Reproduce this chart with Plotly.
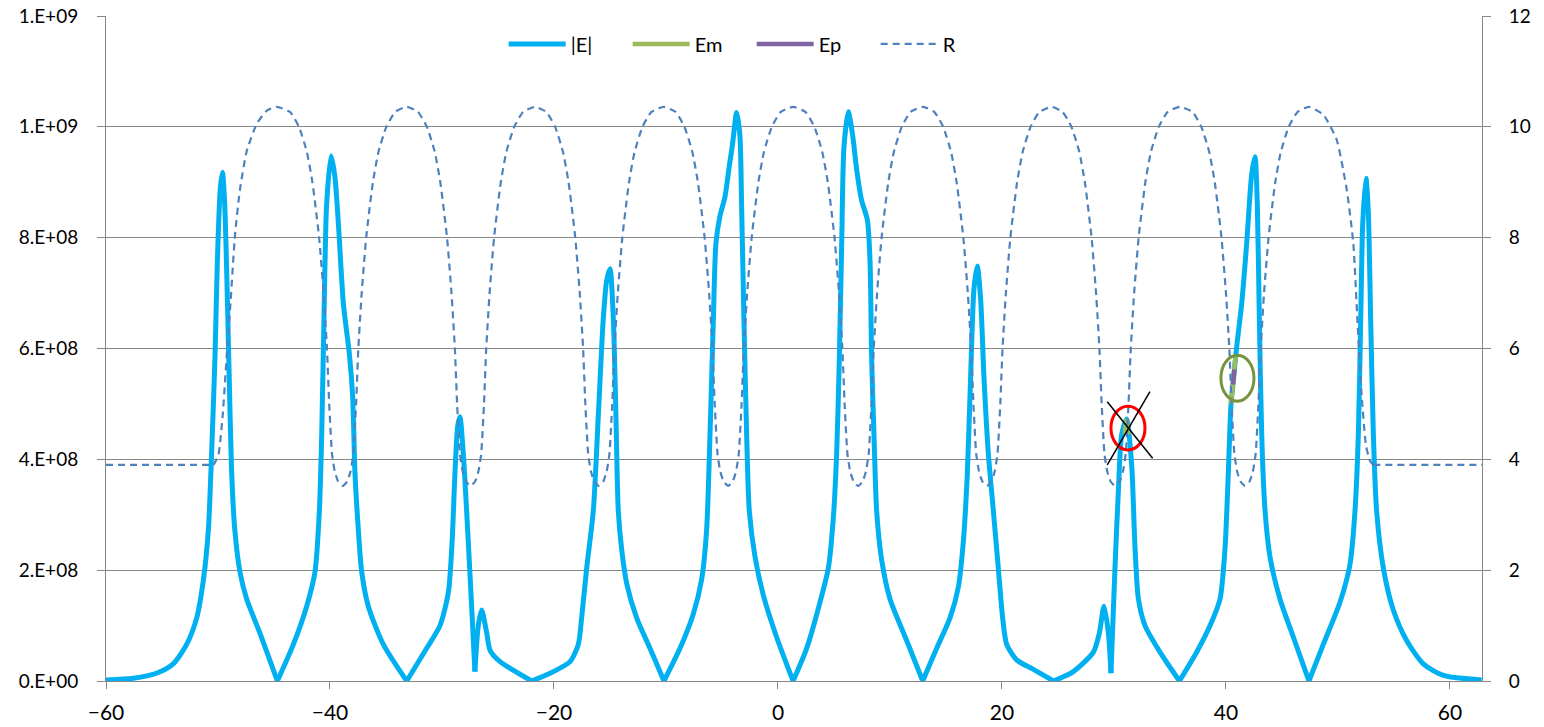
import plotly.graph_objects as go

# Field magnitude |E| along the structure (values in units of 1e8)
E_UNIT = 1e8
x_e = [
    -60.0, -57.56, -55.5, -54.0, -52.8, -51.9, -51.3, -50.86, -50.57, -50.27, -50.06, -49.8,
    -49.6, -49.4, -49.2, -49.0, -48.78, -48.5, -48.04, -47.44, -46.25, -44.7,
    -43.27, -42.08, -41.34, -40.95, -40.74, -40.54, -40.3, -39.9, -39.55, -39.25, -38.8,
    -38.27, -37.98, -37.77, -37.47, -37.17, -36.58, -35.24, -33.15,
    -31.37, -30.18, -29.43, -29.1, -28.84, -28.6, -28.4, -28.1, -27.8, -27.44, -27.06,
    -26.76, -26.46, -26.0, -25.7, -24.82, -22.0,
    -20.36, -18.57, -17.83, -17.53, -17.08, -16.49, -16.04, -15.6, -15.3, -15.0, -14.7,
    -14.47, -14.26, -13.96, -13.51, -12.62, -11.43, -10.18,
    -8.75, -7.56, -6.82, -6.37, -6.07, -5.77, -5.54, -5.18, -4.73, -4.35, -4.05, -3.69,
    -3.4, -3.25, -3.04, -2.8, -2.56, -2.05, -1.31, -0.12, 1.35,
    2.56, 3.75, 4.5, 4.94, 5.24, 5.48, 5.69, 5.89, 6.28, 6.67, 7.03, 7.47, 7.98, 8.22,
    8.36, 8.57, 8.81, 9.26, 10.0, 11.49, 12.92,
    14.17, 15.36, 16.1, 16.55, 16.91, 17.2, 17.5, 17.8, 18.1, 18.39, 18.78, 19.23, 19.67,
    20.06, 20.42, 21.31, 22.8, 24.6,
    26.37, 28.16, 28.69, 29.11, 29.5, 29.73, 30.09, 30.39, 30.69, 31.13, 31.58, 31.88,
    32.18, 32.77, 34.11, 35.84,
    37.38, 38.58, 39.47, 39.91, 40.21, 40.45, 40.66, 40.96, 41.4, 41.85, 42.3, 42.59,
    42.8, 42.98, 43.19, 43.49, 43.93, 44.82, 46.02, 47.41,
    48.69, 50.18, 51.07, 51.52, 51.82, 52.03, 52.21, 52.5, 52.71, 52.92, 53.16, 53.45,
    54.05, 54.94, 56.13, 57.62, 59.41, 62.83,
]
e_abs = [
    0.02, 0.05, 0.14, 0.31, 0.66, 1.14, 1.83, 2.73, 4.11, 5.84, 7.56, 8.87,
    9.18, 8.6, 7.2, 5.49, 3.76, 2.73, 1.97, 1.48, 0.86, 0.0,
    0.66, 1.35, 1.97, 3.07, 4.45, 6.53, 8.6, 9.48, 9.08, 8.25, 6.8,
    5.9, 5.15, 3.76, 2.73, 1.97, 1.35, 0.66, 0.0,
    0.59, 1.0, 1.6, 2.5, 3.76, 4.6, 4.77, 4.11, 3.07, 1.69, 0.17,
    1.0, 1.28, 0.86, 0.55, 0.35, 0.0,
    0.14, 0.35, 0.66, 1.14, 2.04, 3.07, 4.8, 6.53, 7.22, 7.44, 6.53,
    4.8, 3.07, 2.38, 1.76, 1.14, 0.59, 0.0,
    0.59, 1.21, 1.83, 2.73, 4.45, 6.53, 7.9, 8.39, 8.74, 9.29, 9.7, 10.26,
    9.84, 8.6, 6.53, 4.45, 3.07, 2.24, 1.55, 0.79, 0.0,
    0.59, 1.42, 2.04, 2.94, 4.11, 5.84, 7.9, 9.63, 10.27, 9.84, 9.22, 8.67, 8.32, 7.56,
    5.84, 4.45, 3.07, 2.18, 1.48, 0.73, 0.0,
    0.59, 1.14, 1.69, 2.52, 3.76, 5.49, 7.08, 7.49, 6.87, 5.49, 4.11, 3.07, 2.04,
    1.14, 0.66, 0.38, 0.21, 0.0,
    0.17, 0.52, 0.86, 1.35, 0.86, 0.14, 2.04, 3.42, 4.45, 4.73, 3.9, 2.4,
    1.48, 1.0, 0.52, 0.0,
    0.52, 1.0, 1.48, 2.38, 3.76, 5.0, 5.42, 6.04, 6.8, 7.9, 9.15, 9.46,
    8.6, 6.53, 4.45, 3.07, 2.24, 1.48, 0.79, 0.0,
    0.66, 1.42, 2.1, 3.07, 4.45, 6.53, 8.25, 9.07, 8.46, 6.53, 4.45, 3.07,
    2.04, 1.28, 0.73, 0.31, 0.1, 0.02,
]

# Em and Ep components (short segments, None breaks the line)
x_em = [30.95, 31.13, 31.3, None, 40.45, 40.66, 40.85]
e_m = [4.45, 4.73, 4.45, None, 5.0, 5.42, 5.85]
x_ep = [40.62, 40.75]
e_p = [5.35, 5.62]

# R profile (right axis)
x_r = [
    -60.0, -50.4, -49.97, -49.58, -49.23, -48.87, -48.48, -48.04, -47.44, -46.55, -45.66, -44.76,
    -43.57, -42.77, -42.07, -41.57, -40.97, -40.57, -40.27, -40.07, -39.82, -39.57, -39.27, -38.87,
    -38.47, -38.17, -37.92, -37.67, -37.47, -37.17, -36.77, -36.17, -35.67, -34.97, -34.17, -33.15,
    -32.15, -31.35, -30.65, -30.15, -29.55, -29.15, -28.85, -28.65, -28.4, -28.15, -27.85, -27.45,
    -27.05, -26.75, -26.5, -26.25, -26.05, -25.75, -25.35, -24.75, -24.25, -23.55, -22.75, -21.7,
    -20.7, -19.9, -19.2, -18.7, -18.1, -17.7, -17.4, -17.2, -16.95, -16.7, -16.4, -16.0,
    -15.6, -15.3, -15.05, -14.8, -14.6, -14.3, -13.9, -13.3, -12.8, -12.1, -11.3, -10.2,
    -9.15, -8.35, -7.65, -7.15, -6.55, -6.15, -5.85, -5.65, -5.4, -5.15, -4.85, -4.45,
    -4.05, -3.75, -3.5, -3.25, -3.05, -2.75, -2.35, -1.75, -1.25, -0.55, 0.25, 1.35,
    2.45, 3.25, 3.95, 4.45, 5.05, 5.45, 5.75, 5.95, 6.2, 6.45, 6.75, 7.15,
    7.55, 7.85, 8.1, 8.35, 8.55, 8.85, 9.25, 9.85, 10.35, 11.05, 11.85, 12.95,
    13.95, 14.75, 15.45, 15.95, 16.55, 16.95, 17.25, 17.45, 17.7, 17.95, 18.25, 18.65,
    19.05, 19.35, 19.6, 19.85, 20.05, 20.35, 20.75, 21.35, 21.85, 22.55, 23.35, 24.45,
    25.4, 26.2, 26.9, 27.4, 28.0, 28.4, 28.7, 28.9, 29.15, 29.4, 29.7, 30.1,
    30.5, 30.8, 31.05, 31.3, 31.5, 31.8, 32.2, 32.8, 33.3, 34.0, 34.8, 35.9,
    37.0, 37.8, 38.5, 39.0, 39.6, 40.0, 40.3, 40.5, 40.75, 41.0, 41.3, 41.7,
    42.1, 42.4, 42.65, 42.9, 43.1, 43.4, 43.8, 44.4, 44.9, 45.6, 46.4, 47.4,
    48.69, 49.88, 50.78, 51.37, 51.73, 52.12, 52.5, 52.86, 53.16, 62.86,
]
r_val = [
    3.9, 3.9, 4.07, 4.8, 5.84, 6.87, 8.05, 8.87, 9.56, 10.05, 10.29, 10.36,
    10.27, 10.0, 9.55, 9.0, 8.0, 7.0, 6.0, 5.0, 4.1, 3.78, 3.6, 3.52,
    3.6, 3.78, 4.1, 5.0, 6.0, 7.0, 8.0, 9.0, 9.55, 10.0, 10.27, 10.36,
    10.27, 10.0, 9.55, 9.0, 8.0, 7.0, 6.0, 5.0, 4.1, 3.78, 3.6, 3.52,
    3.6, 3.78, 4.1, 5.0, 6.0, 7.0, 8.0, 9.0, 9.55, 10.0, 10.27, 10.36,
    10.27, 10.0, 9.55, 9.0, 8.0, 7.0, 6.0, 5.0, 4.1, 3.78, 3.6, 3.52,
    3.6, 3.78, 4.1, 5.0, 6.0, 7.0, 8.0, 9.0, 9.55, 10.0, 10.27, 10.36,
    10.27, 10.0, 9.55, 9.0, 8.0, 7.0, 6.0, 5.0, 4.1, 3.78, 3.6, 3.52,
    3.6, 3.78, 4.1, 5.0, 6.0, 7.0, 8.0, 9.0, 9.55, 10.0, 10.27, 10.36,
    10.27, 10.0, 9.55, 9.0, 8.0, 7.0, 6.0, 5.0, 4.1, 3.78, 3.6, 3.52,
    3.6, 3.78, 4.1, 5.0, 6.0, 7.0, 8.0, 9.0, 9.55, 10.0, 10.27, 10.36,
    10.27, 10.0, 9.55, 9.0, 8.0, 7.0, 6.0, 5.0, 4.1, 3.78, 3.6, 3.52,
    3.6, 3.78, 4.1, 5.0, 6.0, 7.0, 8.0, 9.0, 9.55, 10.0, 10.27, 10.36,
    10.27, 10.0, 9.55, 9.0, 8.0, 7.0, 6.0, 5.0, 4.1, 3.78, 3.6, 3.52,
    3.6, 3.78, 4.1, 5.0, 6.0, 7.0, 8.0, 9.0, 9.55, 10.0, 10.27, 10.36,
    10.27, 10.0, 9.55, 9.0, 8.0, 7.0, 6.0, 5.0, 4.1, 3.78, 3.6, 3.52,
    3.6, 3.78, 4.1, 5.0, 6.0, 7.0, 8.0, 9.0, 9.55, 10.0, 10.27, 10.36,
    10.22, 9.77, 8.87, 7.9, 6.53, 5.14, 4.25, 3.97, 3.9, 3.9,
]

x_ticks = [-60, -40, -20, 0, 20, 40, 60]
y_ticks = [0, 2e8, 4e8, 6e8, 8e8, 1.0e9, 1.2e9]
y_tick_text = ["0.E+00", "2.E+08", "4.E+08", "6.E+08", "8.E+08", "1.E+09", "1.E+09"]
y2_ticks = [0, 2, 4, 6, 8, 10, 12]


def scaled(vals):
    return [None if v is None else v * E_UNIT for v in vals]


def split_at(xs, ys, cut_idx):
    """Repeat the points at cut_idx after a gap so the smoothed line keeps
    sharp corners there (each piece is smoothed on its own)."""
    ox, oy = [], []
    for i, (x, y) in enumerate(zip(xs, ys)):
        ox.append(x)
        oy.append(y)
        if i in cut_idx:
            ox += [None, x]
            oy += [None, y]
    return ox, oy


# sharp minima of |E| (nodes and narrow dips)
e_cusps = {i for i in range(1, len(e_abs) - 1)
           if e_abs[i] <= e_abs[i - 1] and e_abs[i] <= e_abs[i + 1] and e_abs[i] < 0.25}
xe_s, ye_s = split_at(x_e, scaled(e_abs), e_cusps)
# corners where R leaves / rejoins its flat outer level
xr_s, yr_s = split_at(x_r, r_val, {1, len(x_r) - 2})

fig = go.Figure()
fig.add_trace(go.Scatter(x=xe_s, y=ye_s, mode="lines", name="|E|", connectgaps=False,
                         line=dict(color="#00B0F0", width=5, shape="spline", smoothing=0.7)))
fig.add_trace(go.Scatter(x=x_em, y=scaled(e_m), mode="lines", name="Em",
                         line=dict(color="#9BBB59", width=4.5), connectgaps=False))
fig.add_trace(go.Scatter(x=x_ep, y=scaled(e_p), mode="lines", name="Ep",
                         line=dict(color="#8064A2", width=4.5)))
fig.add_trace(go.Scatter(x=xr_s, y=yr_s, mode="lines", name="R", yaxis="y2", connectgaps=False,
                         line=dict(color="#4F81BD", width=2.2, dash="7px,5px",
                                   shape="spline", smoothing=0.5)))

# Hand-drawn markers around the Em points
fig.add_shape(type="circle", xref="x", yref="y", x0=29.73, x1=32.77, y0=4.17e8, y1=4.96e8,
              line=dict(color="#FF0000", width=3))
fig.add_shape(type="line", xref="x", yref="y", x0=29.4, y0=3.9e8, x1=33.21, y1=5.22e8,
              line=dict(color="#000000", width=1.5))
fig.add_shape(type="line", xref="x", yref="y", x0=29.4, y0=5.04e8, x1=33.45, y1=4.02e8,
              line=dict(color="#000000", width=1.5))
fig.add_shape(type="circle", xref="x", yref="y", x0=39.55, x1=42.5, y0=5.05e8, y1=5.88e8,
              line=dict(color="#77933C", width=3))

axis_grey = "#868686"
fig.update_layout(
    width=1544, height=727,
    margin=dict(l=106, r=62, t=16, b=46),
    paper_bgcolor="white", plot_bgcolor="white",
    font=dict(family="Lato, 'Open Sans', sans-serif", size=19, color="#000000"),
    xaxis=dict(range=[-60, 62.86], tickvals=x_ticks, showgrid=False, zeroline=False,
               showline=True, linecolor=axis_grey, linewidth=1, automargin=False,
               ticks="outside", ticklen=7, tickcolor=axis_grey,
               tickfont=dict(size=21), ticklabelstandoff=6),
    yaxis=dict(range=[0, 1.2e9], tickvals=y_ticks, ticktext=y_tick_text,
               showgrid=True, gridcolor=axis_grey, gridwidth=1, zeroline=False,
               showline=True, linecolor=axis_grey, linewidth=1, automargin=False,
               ticks="outside", ticklen=8, tickcolor=axis_grey, ticklabelstandoff=15),
    yaxis2=dict(range=[0, 12], tickvals=y2_ticks, overlaying="y", side="right",
                showgrid=False, zeroline=False, automargin=False,
                showline=True, linecolor=axis_grey, linewidth=1,
                ticks="outside", ticklen=8, tickcolor=axis_grey, ticklabelstandoff=14),
    legend=dict(orientation="h", x=0.289, y=0.958, xanchor="left", yanchor="middle",
                bgcolor="rgba(0,0,0,0)", itemwidth=57, entrywidth=52, entrywidthmode="pixels",
                font=dict(size=20)),
)

fig.write_html("out.html")
